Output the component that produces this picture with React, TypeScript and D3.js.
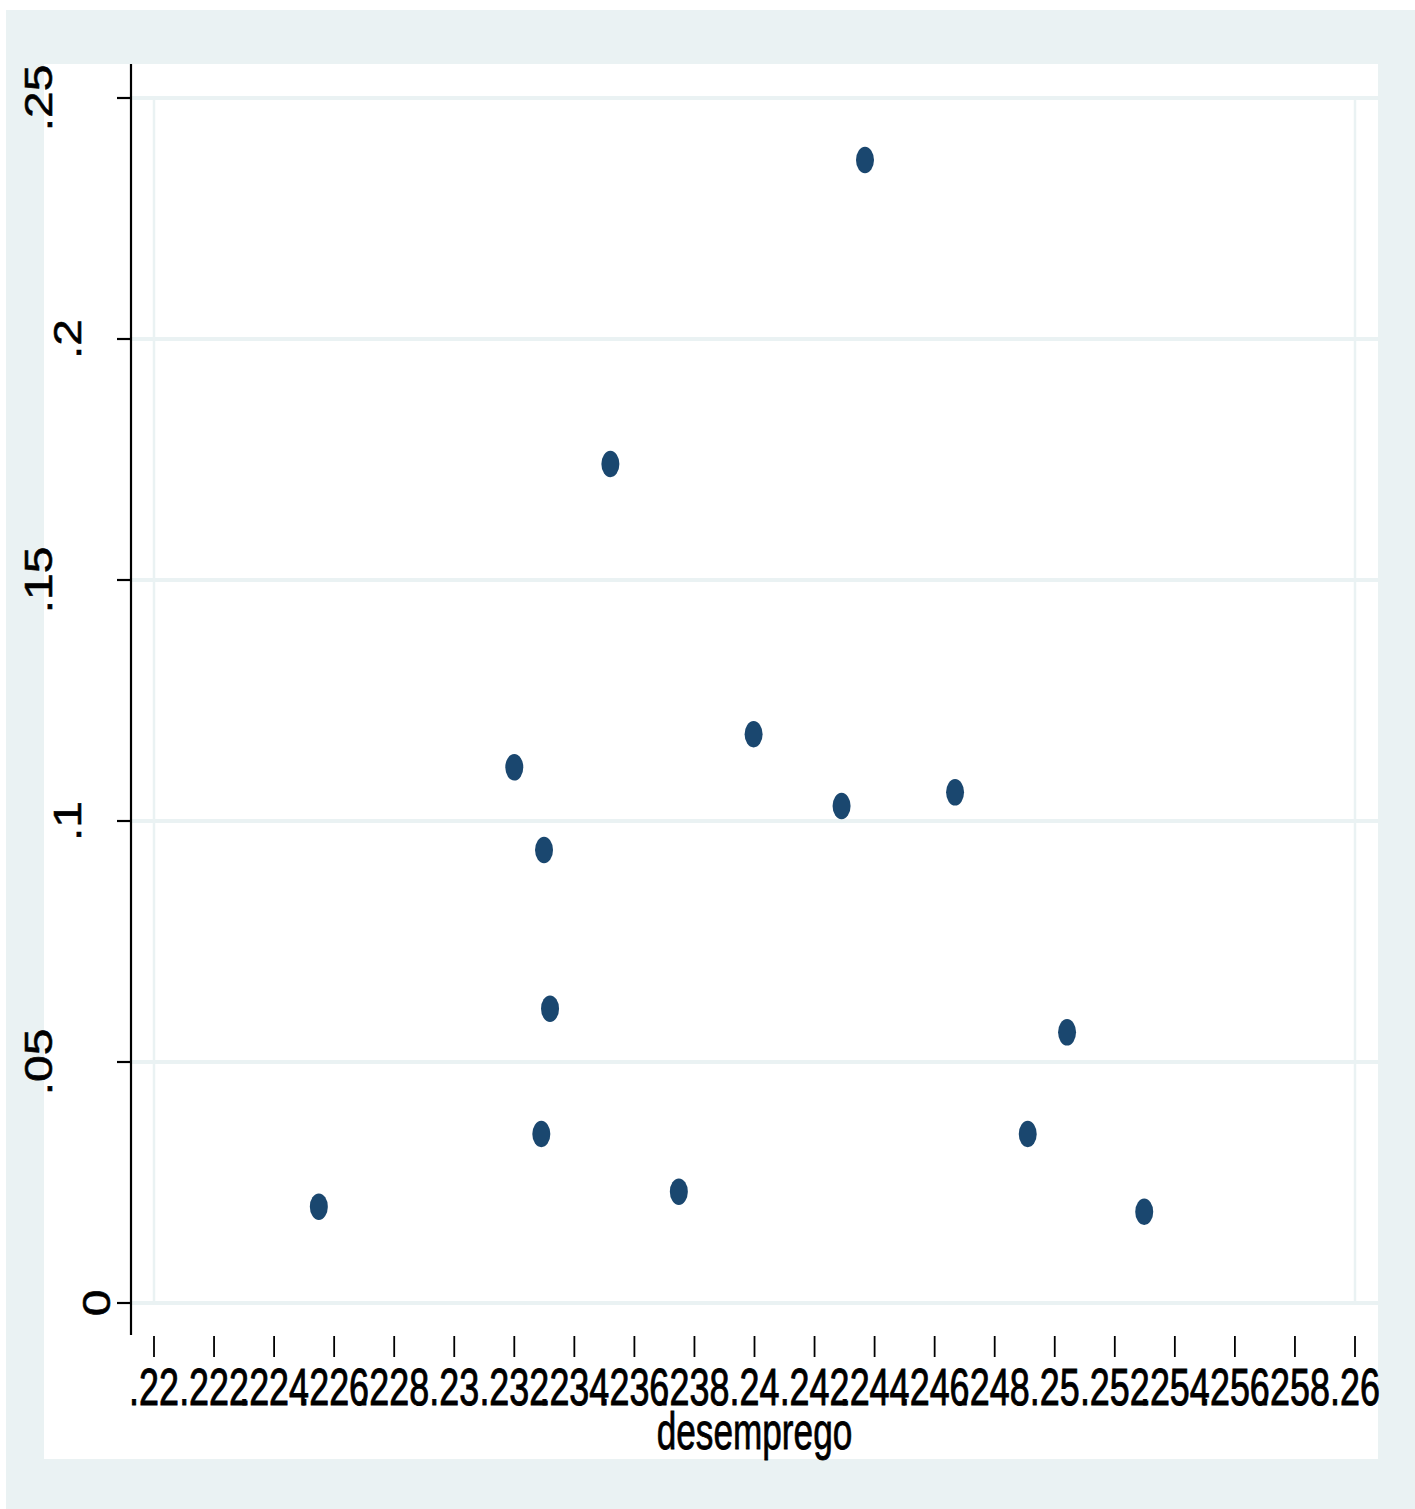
import React from "react";
import * as d3 from "d3";

// Data (x: desemprego)
const desemprego = [
  0.22549, 0.232, 0.23299, 0.23319, 0.2329, 0.2352, 0.23748,
  0.23997, 0.2429, 0.24368, 0.24668, 0.2491, 0.25041, 0.25298,
];
const yValues = [
  0.01998, 0.11114, 0.09398, 0.06106, 0.03506, 0.17407, 0.02309,
  0.11799, 0.10311, 0.23714, 0.10595, 0.03506, 0.05616, 0.01894,
];
const xTicks = [
  0.22, 0.222, 0.224, 0.226, 0.228, 0.23, 0.232, 0.234, 0.236, 0.238, 0.24,
  0.242, 0.244, 0.246, 0.248, 0.25, 0.252, 0.254, 0.256, 0.258, 0.26,
];
const yTicks = [0, 0.05, 0.1, 0.15, 0.2, 0.25];
const xTitle = "desemprego";

const fmt = (v: number) => {
  if (v === 0) return "0";
  const s = d3.format(".3~f")(v);
  return s.replace(/^0/, "");
};

const BG = "#EAF2F3";
const MARK = "#1A476F";
const FONT = "'Liberation Sans', Arial, Helvetica, sans-serif";

export default function App() {
  const W = 1415;
  const H = 1509;
  const x = d3.scaleLinear().domain([0.22, 0.26]).range([154, 1355]);
  const y = d3.scaleLinear().domain([0, 0.25]).range([1303, 98]);
  const axisX = 131;
  const plotRight = 1378;

  return (
    <svg
      width={W}
      height={H}
      style={{ position: "absolute", left: 0, top: 0, display: "block" }}
    >
      <rect x={0} y={0} width={W} height={H} fill="#ffffff" />
      <rect x={6} y={10} width={W - 6} height={H - 10} fill={BG} />
      <rect x={44} y={64} width={plotRight - 44} height={1459 - 64} fill="#ffffff" />

      {/* horizontal gridlines */}
      {yTicks.map((t) => (
        <line
          key={"gy" + t}
          x1={axisX}
          x2={plotRight}
          y1={y(t)}
          y2={y(t)}
          stroke={BG}
          strokeWidth={4}
        />
      ))}
      {/* vertical gridlines at x extremes */}
      {[xTicks[0], xTicks[xTicks.length - 1]].map((t) => (
        <line
          key={"gx" + t}
          x1={x(t)}
          x2={x(t)}
          y1={y(0.25)}
          y2={y(0)}
          stroke={BG}
          strokeWidth={2.5}
        />
      ))}

      {/* y axis */}
      <line x1={axisX} x2={axisX} y1={64} y2={1335} stroke="#000" strokeWidth={2.2} />
      {yTicks.map((t) => {
        const lab = fmt(t);
        const bx = 110 - (lab.length - 1) * 29;
        return (
          <g key={"yt" + t}>
            <line x1={117} x2={axisX} y1={y(t)} y2={y(t)} stroke="#000" strokeWidth={2.2} />
            <text
              transform={`translate(${bx},${y(t)}) rotate(-90) scale(1,0.79)`}
              textAnchor="middle"
              fontFamily={FONT}
              fontSize={48}
              fill="#000"
              stroke="#000"
              strokeWidth={0.7}
            >
              {lab}
            </text>
          </g>
        );
      })}

      {/* x ticks and labels */}
      {xTicks.map((t) => (
        <line
          key={"xt" + t}
          x1={x(t)}
          x2={x(t)}
          y1={1336}
          y2={1357}
          stroke="#000"
          strokeWidth={1.8}
        />
      ))}
      {xTicks.map((t) => (
        <text
          key={"xl" + t}
          transform={`translate(${x(t)},1405) scale(0.69,1)`}
          textAnchor="middle"
          fontFamily={FONT}
          fontSize={52}
          fill="#000"
          stroke="#000"
          strokeWidth={1}
        >
          {fmt(t)}
        </text>
      ))}
      <text
        transform={`translate(${(x(0.22) + x(0.26)) / 2},1449) scale(0.69,1)`}
        textAnchor="middle"
        fontFamily={FONT}
        fontSize={51}
        fill="#000"
        stroke="#000"
        strokeWidth={0.8}
      >
        {xTitle}
      </text>

      {/* markers */}
      {desemprego.map((d, i) => (
        <ellipse
          key={"p" + i}
          cx={x(d)}
          cy={y(yValues[i])}
          rx={9}
          ry={13.2}
          fill={MARK}
        />
      ))}
    </svg>
  );
}
